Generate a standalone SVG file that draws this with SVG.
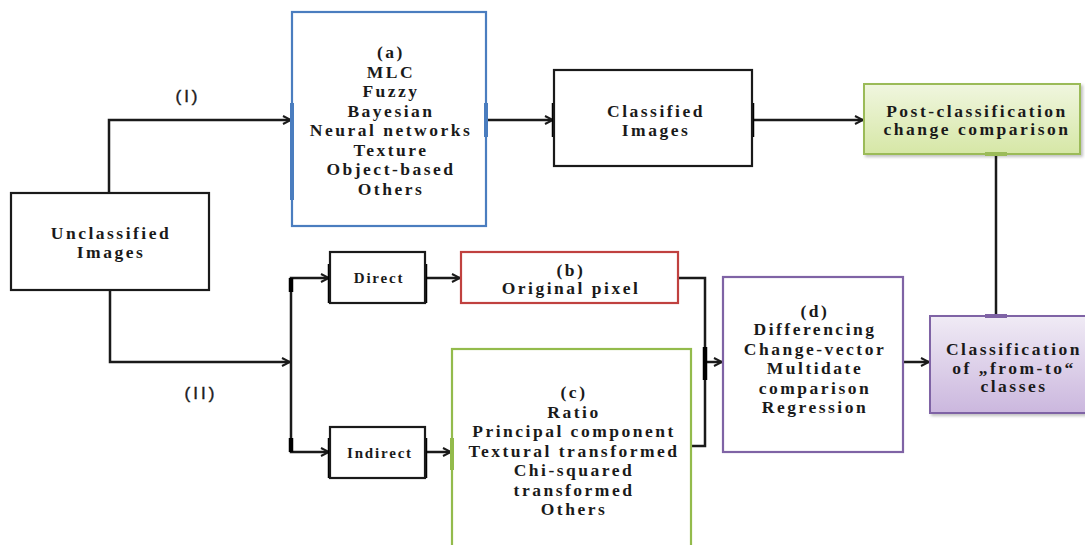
<svg xmlns="http://www.w3.org/2000/svg" width="1085" height="545" viewBox="0 0 1085 545">
  <defs>
    <linearGradient id="gradGreen" x1="0" y1="0" x2="0" y2="1">
      <stop offset="0" stop-color="#f0f6df"/>
      <stop offset="1" stop-color="#d6e7a6"/>
    </linearGradient>
    <linearGradient id="gradPurple" x1="0" y1="0" x2="0" y2="1">
      <stop offset="0" stop-color="#f0ebf5"/>
      <stop offset="1" stop-color="#cbb7de"/>
    </linearGradient>
    <filter id="shadow" x="-10%" y="-10%" width="130%" height="130%">
      <feDropShadow dx="2" dy="2" stdDeviation="1.5" flood-color="#000" flood-opacity="0.25"/>
    </filter>
    <marker id="arrow" viewBox="0 0 10 10" refX="9" refY="5" markerWidth="10" markerHeight="10" markerUnits="userSpaceOnUse" orient="auto">
      <path d="M1,1 L9,5 L1,9" fill="none" stroke="#1a1a1a" stroke-width="2"/>
    </marker>
  </defs>
  <style>
    .box { fill: #ffffff; stroke: #1a1a1a; stroke-width: 2.2; }
    .blue { fill: #ffffff; stroke: #4a7dbf; stroke-width: 2.2; }
    .red { fill: #ffffff; stroke: #c0413f; stroke-width: 2.2; }
    .green { fill: #ffffff; stroke: #93bb4c; stroke-width: 2.2; }
    .purple { fill: #ffffff; stroke: #7f63a5; stroke-width: 2.2; }
    .post { fill: url(#gradGreen); stroke: #9bbb59; stroke-width: 2; filter: url(#shadow); }
    .cls { fill: url(#gradPurple); stroke: #7f63a5; stroke-width: 2; filter: url(#shadow); }
    .t { font-family: "Liberation Serif", "Times New Roman", serif; font-weight: bold; font-size: 17.5px; letter-spacing: 2.5px; fill: #1a1a1a; text-anchor: middle; }
    .ts { font-family: "Liberation Serif", "Times New Roman", serif; font-weight: bold; font-size: 15px; letter-spacing: 1.8px; fill: #1a1a1a; text-anchor: middle; }
    .lbl { font-family: "Liberation Sans", Arial, sans-serif; font-size: 17px; letter-spacing: 3px; fill: #1a1a1a; text-anchor: middle; stroke: #1a1a1a; stroke-width: 0.4; }
    .wire { fill: none; stroke: #1a1a1a; stroke-width: 2.5; }
    .arr { marker-end: url(#arrow); }
    .glue { stroke: #000; stroke-width: 4.5; }
  </style>

  <!-- connectors -->
  <g id="connectors">
    <path class="wire arr" d="M109,193 V120 H291"/>
    <path class="wire arr" d="M110,290 V362 H290"/>
    <path class="wire arr" d="M291,362 V278 H329"/>
    <path class="wire arr" d="M291,362 V452 H329"/>
    <path class="wire arr" d="M486,120 H553"/>
    <path class="wire arr" d="M752,120 H863"/>
    <path class="wire arr" d="M425,278 H460"/>
    <path class="wire arr" d="M425,452 H451"/>
    <path class="wire" d="M678,278 H705 V446 H691"/>
    <path class="wire arr" d="M705,362 H722"/>
    <path class="wire arr" d="M903,362 H929"/>
    <path class="wire" d="M996,154 V316"/>
    <!-- heavier glue marks where lines meet box edges -->
    <line class="glue" x1="554" y1="103" x2="554" y2="137"/>
    <line class="glue" x1="752" y1="103" x2="752" y2="137"/>
    <line class="glue" x1="330" y1="264" x2="330" y2="303"/>
    <line class="glue" x1="425" y1="264" x2="425" y2="303"/>
    <line class="glue" x1="330" y1="438" x2="330" y2="478"/>
    <line class="glue" x1="425" y1="438" x2="425" y2="478"/>
    <line class="glue" x1="291" y1="278" x2="291" y2="292"/>
    <line class="glue" x1="291" y1="438" x2="291" y2="452"/>
    <line class="glue" x1="705" y1="347" x2="705" y2="380"/>
  </g>

  <g id="unclassified">
    <rect class="box" x="11" y="193" width="198" height="97"/>
    <text class="t" x="111" y="239">Unclassified</text>
    <text class="t" x="111" y="258">Images</text>
  </g>

  <g id="label-I">
    <text class="lbl" x="188" y="102">(I)</text>
  </g>
  <g id="label-II">
    <text class="lbl" x="201" y="399">(II)</text>
  </g>

  <g id="node-a">
    <rect class="blue" x="292" y="12" width="194" height="214"/>
    <line x1="292" y1="103" x2="292" y2="200" stroke="#4a7dbf" stroke-width="4"/>
    <line x1="486" y1="103" x2="486" y2="137" stroke="#4a7dbf" stroke-width="4"/>
    <text class="t" x="391" y="58">(a)</text>
    <text class="t" x="391" y="77.5">MLC</text>
    <text class="t" x="391" y="97">Fuzzy</text>
    <text class="t" x="391" y="116.5">Bayesian</text>
    <text class="t" x="391" y="136">Neural networks</text>
    <text class="t" x="391" y="155.5">Texture</text>
    <text class="t" x="391" y="175">Object-based</text>
    <text class="t" x="391" y="194.5">Others</text>
  </g>

  <g id="classified">
    <rect class="box" x="554" y="70" width="198" height="96"/>
    <text class="t" x="656" y="117">Classified</text>
    <text class="t" x="656" y="136">Images</text>
  </g>

  <g id="post-classification">
    <rect class="post" x="864" y="84" width="216" height="70"/>
    <line x1="985" y1="154" x2="1007" y2="154" stroke="#9bbb59" stroke-width="4"/>
    <text class="t" x="977" y="117">Post-classification</text>
    <text class="t" x="977" y="135">change comparison</text>
  </g>

  <g id="direct">
    <rect class="box" x="330" y="252" width="95" height="51"/>
    <text class="ts" x="379" y="283">Direct</text>
  </g>

  <g id="node-b">
    <rect class="red" x="461" y="252" width="217" height="51"/>
    <text class="t" x="571" y="276">(b)</text>
    <text class="t" x="571" y="294">Original pixel</text>
  </g>

  <g id="indirect">
    <rect class="box" x="330" y="427" width="95" height="51"/>
    <text class="ts" x="380" y="458">Indirect</text>
  </g>

  <g id="node-c">
    <rect class="green" x="452" y="349" width="239" height="210"/>
    <line x1="452" y1="438" x2="452" y2="470" stroke="#93bb4c" stroke-width="4"/>
    <text class="t" x="574" y="398">(c)</text>
    <text class="t" x="574" y="417.5">Ratio</text>
    <text class="t" x="574" y="437">Principal component</text>
    <text class="t" x="574" y="456.5">Textural transformed</text>
    <text class="t" x="574" y="476">Chi-squared</text>
    <text class="t" x="574" y="495.5">transformed</text>
    <text class="t" x="574" y="515">Others</text>
  </g>

  <g id="node-d">
    <rect class="purple" x="723" y="277" width="180" height="175"/>
    <text class="t" x="815" y="317">(d)</text>
    <text class="t" x="815" y="335">Differencing</text>
    <text class="t" x="815" y="354.5">Change-vector</text>
    <text class="t" x="815" y="374">Multidate</text>
    <text class="t" x="815" y="393.5">comparison</text>
    <text class="t" x="815" y="413">Regression</text>
  </g>

  <g id="from-to">
    <rect class="cls" x="930" y="316" width="162" height="97"/>
    <line x1="985" y1="316" x2="1007" y2="316" stroke="#7f63a5" stroke-width="4"/>
    <text class="t" x="1014" y="355">Classification</text>
    <text class="t" x="1014" y="373.5">of „from-to“</text>
    <text class="t" x="1014" y="392">classes</text>
  </g>
</svg>
